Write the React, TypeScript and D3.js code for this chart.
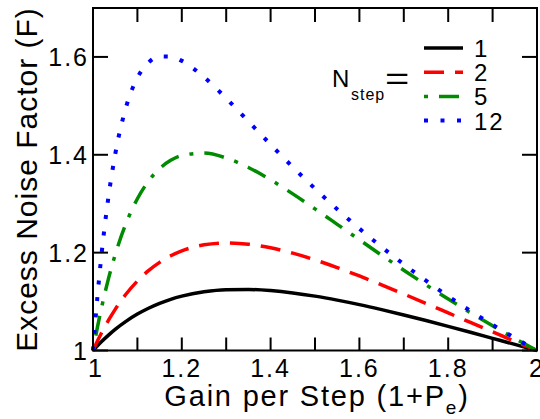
import React from "react";
import * as d3 from "d3";

// ---- data ----
const gain = [1, 1.01, 1.02, 1.035, 1.05, 1.075, 1.1, 1.125, 1.15, 1.175, 1.2, 1.25, 1.3, 1.35, 1.4, 1.45, 1.5, 1.55, 1.6, 1.65, 1.7, 1.75, 1.8, 1.85, 1.9, 1.95, 2.0];
const fN1 = [1, 1.0097, 1.0188, 1.0315, 1.0431, 1.06, 1.0744, 1.0864, 1.0964, 1.1046, 1.1111, 1.12, 1.1243, 1.1248, 1.1224, 1.1177, 1.1111, 1.103, 1.0938, 1.0836, 1.0727, 1.0612, 1.0494, 1.0373, 1.0249, 1.0125, 1];
const fN2 = [1, 1.0193, 1.0373, 1.062, 1.0841, 1.1159, 1.142, 1.1632, 1.1802, 1.1936, 1.2037, 1.216, 1.2198, 1.2173, 1.2099, 1.1989, 1.1852, 1.1695, 1.1523, 1.1342, 1.1154, 1.0962, 1.0768, 1.0574, 1.0381, 1.0189, 1];
const fN5 = [1, 1.0476, 1.0906, 1.1473, 1.1959, 1.2611, 1.3102, 1.3462, 1.3717, 1.3886, 1.3987, 1.4034, 1.3934, 1.3741, 1.3489, 1.3201, 1.2894, 1.2579, 1.2262, 1.1948, 1.164, 1.1342, 1.1052, 1.0773, 1.0505, 1.0247, 1];
const fN12 = [1, 1.1103, 1.2032, 1.3153, 1.401, 1.4992, 1.5575, 1.5885, 1.601, 1.6007, 1.5919, 1.5588, 1.5154, 1.4683, 1.421, 1.3749, 1.3308, 1.2888, 1.2491, 1.2116, 1.1762, 1.1427, 1.111, 1.081, 1.0526, 1.0256, 1];

const legendLabels = ["1", "2", "5", "12"];
const xTickValues = [1, 1.2, 1.4, 1.6, 1.8, 2];
const xTickLabels = ["1", "1.2", "1.4", "1.6", "1.8", "2"];
const yTickValues = [1, 1.2, 1.4, 1.6];
const yTickLabels = ["1", "1.2", "1.4", "1.6"];

const FONT = "'Liberation Sans', Arial, Helvetica, sans-serif";

const seriesStyles = [
  { color: "#000000", dash: "none", width: 3.5 },
  { color: "#ff0000", dash: "20,11", width: 3.5 },
  { color: "#008b00", dash: "4,11,20,11", width: 3.5 },
  { color: "#0000ff", dash: "4,12.5", width: 4 },
];

export default function App() {
  const W = 540, H = 419;
  const left = 93, right = 537, top = 8, bottom = 350.5;
  const x = d3.scaleLinear().domain([1, 2]).range([left, right]);
  const y = d3.scaleLinear().domain([1, 1.7]).range([bottom, top]);
  const series = [fN1, fN2, fN5, fN12];
  const line = d3
    .line<number>()
    .x((_, i) => x(gain[i]))
    .y((d) => y(d))
    .curve(d3.curveMonotoneX);
  const xMinor = x.ticks(10);
  const tickLen = 14;

  return (
    <div style={{ position: "fixed", left: 0, top: 0 }}>
      <svg width={W} height={H} style={{ display: "block", background: "#fff" }} fontFamily={FONT}>
        {/* curves */}
        {series.map((s, k) => (
          <path
            key={k}
            d={line(s) || ""}
            fill="none"
            stroke={seriesStyles[k].color}
            strokeWidth={seriesStyles[k].width}
            strokeDasharray={seriesStyles[k].dash}
            strokeLinecap="butt"
          />
        ))}
        {/* frame */}
        <rect x={left} y={top} width={right - left} height={bottom - top} fill="none" stroke="#000" strokeWidth={2} />
        {/* x ticks top & bottom */}
        {xMinor.map((t, i) => (
          <g key={"xt" + i}>
            <line x1={x(t)} x2={x(t)} y1={bottom} y2={bottom - 13} stroke="#000" strokeWidth={2} />
            <line x1={x(t)} x2={x(t)} y1={top} y2={top + tickLen} stroke="#000" strokeWidth={2} />
          </g>
        ))}
        {/* y ticks left & right */}
        {yTickValues.map((t, i) => (
          <g key={"yt" + i}>
            <line x1={left} x2={left + 15} y1={y(t)} y2={y(t)} stroke="#000" strokeWidth={2} />
            <line x1={right} x2={right - 15} y1={y(t)} y2={y(t)} stroke="#000" strokeWidth={2} />
          </g>
        ))}
        {/* x tick labels */}
        {xTickValues.map((t, i) => (
          <text key={"xl" + i} x={x(t) + (i === 0 ? 3 : 0)} y={bottom + 26.5} fontSize={25} textAnchor="middle" letterSpacing={2}>
            {xTickLabels[i]}
          </text>
        ))}
        {/* y tick labels */}
        {yTickValues.map((t, i) => (
          <text key={"yl" + i} x={left - 4} y={y(t) + 9} fontSize={25} textAnchor="end" letterSpacing={2}>
            {yTickLabels[i]}
          </text>
        ))}
        {/* axis titles */}
        <text x={317} y={406} fontSize={29} textAnchor="middle" letterSpacing={1.8}>
          Gain per Step (1+P
          <tspan fontSize={19} dy={8}>e</tspan>
          <tspan dy={-8}>)</tspan>
        </text>
        <text transform={`translate(37,${(350 + 9) / 2}) rotate(-90)`} fontSize={30} textAnchor="middle" letterSpacing={1}>
          Excess Noise Factor (F)
        </text>
        {/* legend */}
        <text x={332} y={87} fontSize={24} letterSpacing={1}>
          N
        </text>
        <text x={351} y={100} fontSize={16} letterSpacing={1}>
          step
        </text>
        <text transform="translate(385,89) scale(1.3,1)" fontSize={32}>
          =
        </text>
        {legendLabels.map((lab, k) => {
          const by = 57 + k * 24.2;
          return (
            <g key={"lg" + k}>
              <line
                x1={424}
                x2={463}
                y1={by - 9}
                y2={by - 9}
                stroke={seriesStyles[k].color}
                strokeWidth={seriesStyles[k].width}
                strokeDasharray={seriesStyles[k].dash}
              />
              <text x={474} y={by} fontSize={24} letterSpacing={2}>
                {lab}
              </text>
            </g>
          );
        })}
      </svg>
    </div>
  );
}
